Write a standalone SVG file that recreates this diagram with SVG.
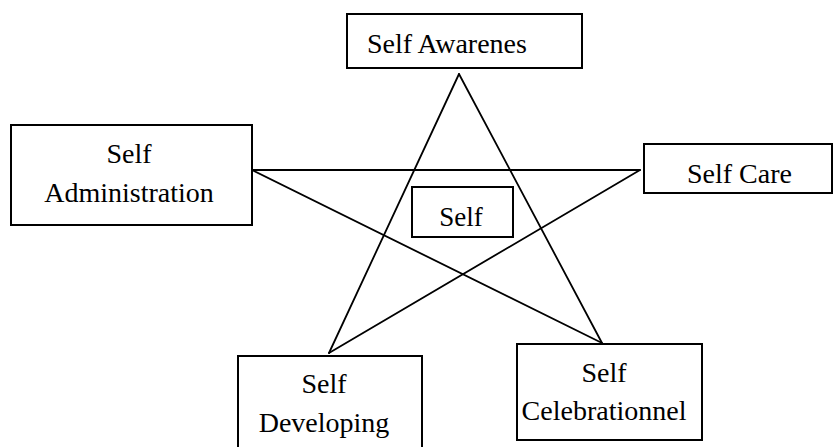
<svg xmlns="http://www.w3.org/2000/svg" width="833" height="447" viewBox="0 0 833 447">
  <style>
    .box { fill: #ffffff; stroke: #000000; stroke-width: 2; }
    .label { font-family: "Liberation Serif", "Times New Roman", serif; font-size: 28px; fill: #000000; }
    .mid { text-anchor: middle; }
    .edge { stroke: #000000; stroke-width: 1.8; fill: none; stroke-linecap: round; }
  </style>
  <rect width="833" height="447" fill="#ffffff"/>

  <!-- five-pointed star connecting the outer nodes -->
  <g id="connectors">
    <line class="edge" x1="459" y1="74" x2="329" y2="353"/>
    <line class="edge" x1="459" y1="74" x2="602" y2="343"/>
    <line class="edge" x1="252" y1="170" x2="640" y2="170"/>
    <line class="edge" x1="252" y1="170" x2="602" y2="343"/>
    <line class="edge" x1="640" y1="170" x2="329" y2="353"/>
  </g>

  <g id="self-awarenes">
    <rect class="box" x="347" y="14" width="235" height="54"/>
    <text class="label" x="367" y="53">Self Awarenes</text>
  </g>

  <g id="self-administration">
    <rect class="box" x="11" y="125" width="241" height="100"/>
    <text class="label mid" x="129" y="163">Self</text>
    <text class="label mid" x="129" y="202">Administration</text>
  </g>

  <g id="self-care">
    <rect class="box" x="644" y="144" width="188" height="49"/>
    <text class="label" x="687" y="183">Self Care</text>
  </g>

  <g id="self">
    <rect class="box" x="412" y="187" width="101" height="50"/>
    <text class="label mid" x="461" y="226" style="font-size:27px">Self</text>
  </g>

  <g id="self-developing">
    <rect class="box" x="238" y="356" width="184" height="100"/>
    <text class="label mid" x="324" y="393">Self</text>
    <text class="label mid" x="324" y="432">Developing</text>
  </g>

  <g id="self-celebrationnel">
    <rect class="box" x="517" y="344" width="185" height="96"/>
    <text class="label mid" x="604" y="382">Self</text>
    <text class="label mid" x="604" y="420">Celebrationnel</text>
  </g>
</svg>
